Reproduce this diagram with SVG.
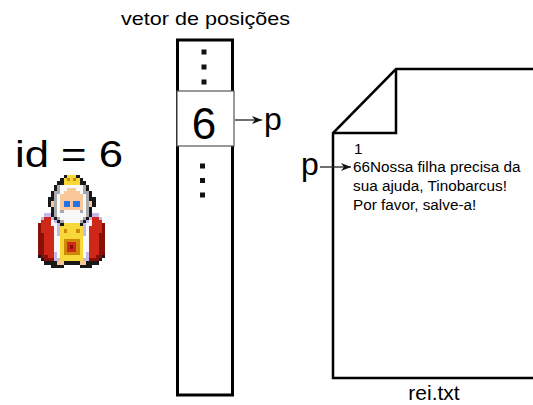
<svg xmlns="http://www.w3.org/2000/svg" width="533" height="405" viewBox="0 0 533 405">
  <style>
    .lbl { font-family: "Liberation Sans", Arial, sans-serif; fill: #000; }
    .big { font-size: 32px; }
    .doc { font-size: 15.3px; }
    .dot { fill: #111; }
    .conn { stroke: #222; stroke-width: 1.3; fill: none; marker-end: url(#arrow); }
  </style>
  <defs>
    <marker id="arrow" viewBox="0 0 10 8" refX="10" refY="4" markerWidth="10" markerHeight="8" markerUnits="userSpaceOnUse" orient="auto">
      <path d="M0,0 L10,4 L0,8 L3,4 z" fill="#111"/>
    </marker>
  </defs>
  <rect width="533" height="405" fill="#fff"/>

  <!-- title above the position vector -->
  <text class="lbl" x="121" y="25" font-size="19" textLength="169" lengthAdjust="spacingAndGlyphs">vetor de posições</text>

  <!-- id label -->
  <g id="id-label">
    <text class="lbl" x="15" y="167" font-size="37" textLength="108" lengthAdjust="spacingAndGlyphs">id = 6</text>
  </g>

  <!-- king sprite, drawn on a 21x29 pixel grid -->
  <g id="king" transform="translate(38,175) scale(3.2)" shape-rendering="crispEdges">
    <path fill="#181818" d="M8 0h1v1h-1z M12 0h1v1h-1z M7 1h1v1h-1z M13 1h1v1h-1z M6 2h2v1h-2z M13 2h2v1h-2z M5 3h1v2h-1z M15 3h1v2h-1z M4 5h1v2h-1z M16 5h1v2h-1z M3 7h2v1h-2z M16 7h2v1h-2z M3 8h1v2h-1z M17 8h1v2h-1z M4 10h1v3h-1z M16 10h1v3h-1z M5 13h1v1h-1z M15 13h1v1h-1z M6 14h1v1h-1z M14 14h1v1h-1z M7 15h1v1h-1z M13 15h1v1h-1z M0 25h1v1h-1z M20 25h1v1h-1z M1 26h1v1h-1z M19 26h1v1h-1z M2 27h4v1h-4z M8 27h5v1h-5z M15 27h4v1h-4z M4 28h4v1h-4z M13 28h4v1h-4z"/>
    <path fill="#f8d838" d="M9 0h3v1h-3z M8 1h1v1h-1z M10 1h1v1h-1z M12 1h1v1h-1z M8 2h5v1h-5z M8 15h5v1h-5z M7 16h7v1h-7z M7 17h1v1h-1z M9 17h3v1h-3z M13 17h1v1h-1z M7 18h7v2h-7z M7 20h1v5h-1z M13 20h1v5h-1z M7 25h7v2h-7z"/>
    <path fill="#d08808" d="M9 1h1v1h-1z M11 1h1v1h-1z M8 17h1v1h-1z M12 17h1v1h-1z M8 20h5v1h-5z M8 21h1v3h-1z M12 21h1v3h-1z M8 24h5v1h-5z"/>
    <path fill="#d02818" d="M2 13h2v1h-2z M17 13h2v1h-2z M1 14h3v2h-3z M17 14h3v2h-3z M1 16h4v2h-4z M16 16h4v2h-4z M2 18h3v7h-3z M16 18h3v7h-3z M9 21h3v3h-3z M3 25h2v1h-2z M16 25h2v1h-2z"/>
    <path fill="#881008" d="M0 15h1v3h-1z M20 15h1v3h-1z M0 18h2v7h-2z M19 18h2v7h-2z M10 22h1v1h-1z M1 25h2v1h-2z M18 25h2v1h-2z M2 26h3v1h-3z M16 26h3v1h-3z"/>
    <path fill="#f8f8f8" d="M7 3h7v1h-7z M7 4h2v1h-2z M12 4h2v1h-2z M7 5h1v1h-1z M13 5h1v1h-1z M6 6h1v6h-1z M14 6h1v6h-1z M8 11h5v1h-5z M6 12h9v1h-9z M7 13h7v1h-7z M4 14h1v1h-1z M8 14h5v1h-5z M16 14h1v1h-1z M4 15h2v1h-2z M15 15h2v1h-2z M5 16h1v3h-1z M15 16h1v3h-1z M5 19h2v5h-2z M14 19h2v5h-2z M6 24h1v2h-1z M14 24h1v2h-1z"/>
    <path fill="#a8a8b0" d="M6 3h1v2h-1z M14 3h1v2h-1z M5 5h2v1h-2z M14 5h2v1h-2z M5 6h1v7h-1z M15 6h1v7h-1z M7 11h1v1h-1z M13 11h1v1h-1z M6 13h1v1h-1z M14 13h1v1h-1z M7 14h1v1h-1z M13 14h1v1h-1z"/>
    <path fill="#f8c898" d="M9 4h3v1h-3z M8 5h5v1h-5z M7 6h7v2h-7z M7 8h1v2h-1z M10 8h1v2h-1z M13 8h1v2h-1z M4 8h1v2h-1z M16 8h1v2h-1z M7 10h7v1h-7z M6 27h2v1h-2z M13 27h2v1h-2z"/>
    <path fill="#2870e8" d="M8 8h2v2h-2z M11 8h2v2h-2z"/>
    <path fill="#c8b8e8" d="M2 12h2v1h-2z M17 12h2v1h-2z M1 13h1v1h-1z M4 13h1v1h-1z M16 13h1v1h-1z M19 13h1v1h-1z M5 14h1v1h-1z M15 14h1v1h-1z M6 15h1v4h-1z M14 15h1v4h-1z M5 24h1v2h-1z M15 24h1v2h-1z M5 26h2v1h-2z M14 26h2v1h-2z"/>
  </g>

  <!-- position vector -->
  <g id="vector">
    <rect x="177.5" y="40" width="55" height="355" fill="#fff" stroke="#000" stroke-width="3"/>
    <rect class="dot" x="201.5" y="49.5" width="5" height="5"/>
    <rect class="dot" x="201.5" y="64.5" width="5" height="5"/>
    <rect class="dot" x="201.5" y="79.5" width="5" height="5"/>
    <rect class="dot" x="200" y="163.5" width="5" height="5"/>
    <rect class="dot" x="200" y="178" width="5" height="5"/>
    <rect class="dot" x="200" y="192.5" width="5" height="5"/>
  </g>

  <!-- highlighted cell -->
  <g id="cell">
    <rect x="177" y="91" width="57" height="55" fill="#fff" stroke="#555" stroke-width="1.2"/>
    <text class="lbl" x="204" y="139" font-size="44" text-anchor="middle">6</text>
  </g>

  <g id="p-cell">
    <text class="lbl big" x="264" y="130">p</text>
  </g>

  <!-- text file -->
  <g id="file">
    <path d="M540,69 L396,69 L333,133 L333,378 L540,378" fill="#fff" stroke="#000" stroke-width="2.5"/>
    <path d="M396,69 L396,133 L333,133" fill="none" stroke="#000" stroke-width="2.5"/>
    <text class="lbl doc" x="354" y="154">1</text>
    <text class="lbl doc" x="353" y="172">66Nossa filha precisa da</text>
    <text class="lbl doc" x="353" y="191">sua ajuda, Tinobarcus!</text>
    <text class="lbl doc" x="353" y="210">Por favor, salve-a!</text>
    <text class="lbl" x="434" y="400" font-size="21" text-anchor="middle">rei.txt</text>
  </g>

  <g id="p-file">
    <text class="lbl big" x="301" y="175">p</text>
  </g>

  <!-- pointers -->
  <g id="connectors">
    <line class="conn" x1="235" y1="120" x2="262" y2="120"/>
    <line class="conn" x1="320" y1="167" x2="351" y2="167"/>
  </g>
</svg>
